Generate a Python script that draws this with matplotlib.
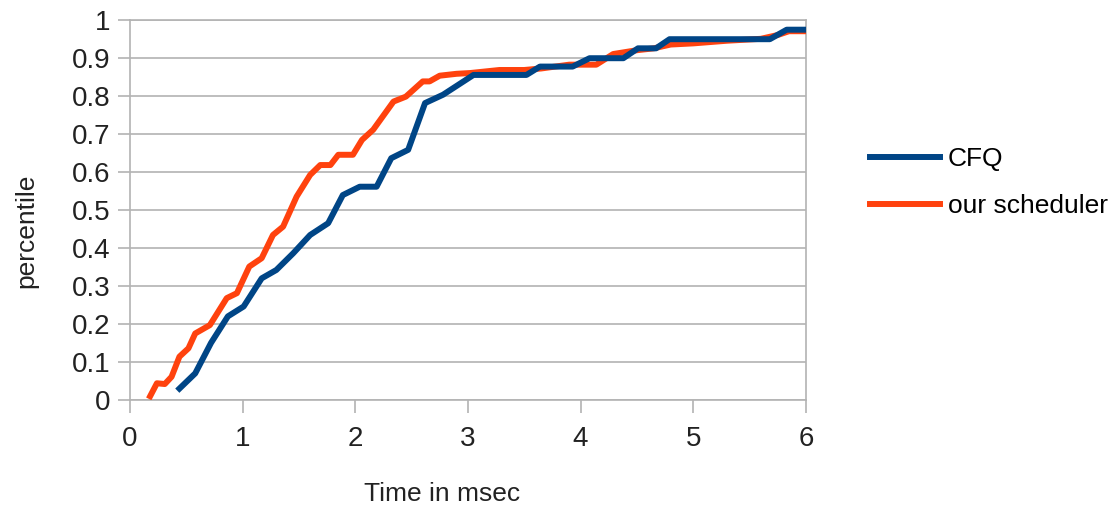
import matplotlib
matplotlib.use("Agg")
import matplotlib.pyplot as plt

# CFQ latency percentiles
cfq_time = [0.44, 0.58, 0.72, 0.87, 1.01, 1.17, 1.30, 1.45, 1.60, 1.76, 1.89, 2.04,
            2.19, 2.32, 2.47, 2.62, 2.78, 3.05, 3.52, 3.64, 3.93, 4.08, 4.38, 4.51,
            4.67, 4.79, 5.68, 5.83, 6.0]
cfq_pct = [0.03, 0.07, 0.15, 0.22, 0.246, 0.32, 0.342, 0.386, 0.434, 0.465, 0.539, 0.561,
           0.561, 0.636, 0.658, 0.781, 0.803, 0.855, 0.855, 0.877, 0.877, 0.899, 0.899, 0.925,
           0.925, 0.949, 0.949, 0.974, 0.974]

# our scheduler latency percentiles
ours_time = [0.18, 0.24, 0.31, 0.37, 0.44, 0.52, 0.58, 0.71, 0.86, 0.95, 1.06, 1.17,
             1.27, 1.36, 1.48, 1.60, 1.69, 1.78, 1.85, 1.98, 2.06, 2.16, 2.34, 2.45,
             2.60, 2.66, 2.75, 2.90, 3.02, 3.28, 3.50, 3.65, 3.90, 4.14, 4.29, 4.50,
             4.65, 4.80, 5.0, 5.3, 5.6, 5.75, 5.85, 6.0]
ours_pct = [0.01, 0.044, 0.042, 0.061, 0.114, 0.136, 0.175, 0.197, 0.268, 0.281, 0.351, 0.373,
            0.434, 0.456, 0.535, 0.592, 0.618, 0.618, 0.645, 0.645, 0.684, 0.711, 0.785, 0.798,
            0.838, 0.838, 0.853, 0.858, 0.86, 0.868, 0.868, 0.872, 0.882, 0.882, 0.91, 0.92,
            0.925, 0.935, 0.938, 0.945, 0.95, 0.96, 0.97, 0.97]

x_ticks = [0, 1, 2, 3, 4, 5, 6]
y_ticks = [0, 0.1, 0.2, 0.3, 0.4, 0.5, 0.6, 0.7, 0.8, 0.9, 1]
y_labels = ["0", "0.1", "0.2", "0.3", "0.4", "0.5", "0.6", "0.7", "0.8", "0.9", "1"]

plt.rcParams["font.family"] = ["Liberation Sans", "DejaVu Sans"]

fig = plt.figure(figsize=(11.1, 5.08), dpi=100)
ax = fig.add_axes([0.117, 0.2126, 0.609, 0.7484])

ax.plot(cfq_time, cfq_pct, color="#004586", linewidth=4.3, label="CFQ", zorder=4)
ax.plot(ours_time, ours_pct, color="#ff420e", linewidth=4.3, label="our scheduler", zorder=3)

ax.set_xlim(0, 6)
ax.set_ylim(0, 1)
ax.set_xticks(x_ticks)
ax.set_yticks(y_ticks)
ax.set_yticklabels(y_labels)

ax.yaxis.grid(True, color="#b3b3b3", linewidth=1.2)
ax.set_axisbelow(True)
for s in ax.spines.values():
    s.set_color("#b3b3b3")
    s.set_linewidth(1.2)

ax.tick_params(axis="x", colors="#b3b3b3", length=9, width=1.2, labelcolor="#222222",
               labelsize=20, pad=10)
ax.tick_params(axis="y", colors="#b3b3b3", length=9, width=1.2, labelcolor="#222222",
               labelsize=20, pad=5)

ax.set_xlabel("Time in msec", fontsize=19, color="#222222")
ax.xaxis.set_label_coords(0.4615, -0.216)
ax.set_ylabel("percentile", fontsize=19, color="#222222")
ax.yaxis.set_label_coords(-0.136, 0.445)

ax.legend(loc="center left", bbox_to_anchor=(1.0947, 0.572), frameon=False, fontsize=19,
          handlelength=2.65, handletextpad=0.3, labelspacing=0.85,
          borderpad=0, borderaxespad=0)

fig.savefig("out.png", dpi=100)
